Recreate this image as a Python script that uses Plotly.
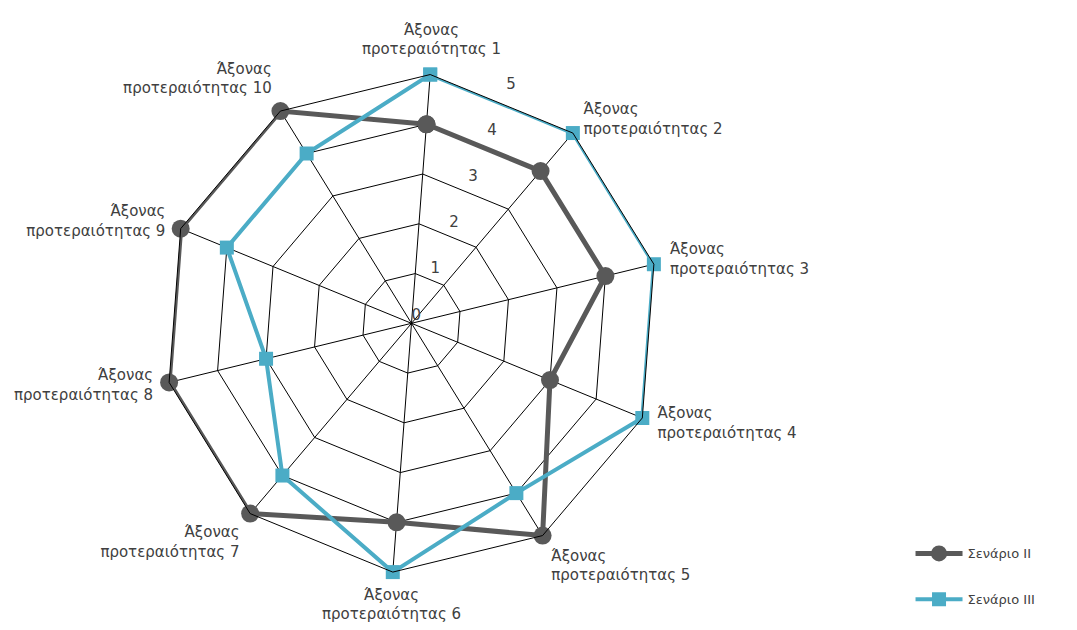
import plotly.graph_objects as go

axes = ["Άξονας<br>προτεραιότητας %d" % i for i in range(1, 11)]
scenario_ii = [4, 4, 4, 3, 5, 4, 5, 5, 5, 5]
scenario_iii = [5, 5, 5, 5, 4, 5, 4, 3, 4, 4]
radial_ticks = [0, 1, 2, 3, 4, 5]

theta = axes + axes[:1]
tick_angle = 18  # radial tick labels sit halfway between axis 1 and 2

# where each category label hangs off its vertex
label_pos = ["top center", "middle right", "middle right", "middle right",
             "bottom right", "bottom center", "bottom left", "middle left",
             "middle left", "top left"]

fig = go.Figure()

fig.add_trace(
    go.Scatterpolar(
        r=scenario_ii + scenario_ii[:1],
        theta=theta,
        mode="lines+markers",
        name="Σενάριο ΙΙ",
        legendgroup="ii",
        line=dict(color="#595959", width=5),
        marker=dict(symbol="circle", size=18, color="#595959")
    )
)

fig.add_trace(
    go.Scatterpolar(
        r=scenario_iii + scenario_iii[:1],
        theta=theta,
        mode="lines+markers",
        name="Σενάριο ΙΙΙ",
        legendgroup="iii",
        line=dict(color="#4BACC6", width=4),
        marker=dict(symbol="square", size=14, color="#4BACC6")
    )
)

# radial tick labels along the bisector, on an overlaid numeric polar
fig.add_trace(
    go.Scatterpolar(
        r=radial_ticks,
        theta=[tick_angle] * len(radial_ticks),
        mode="text",
        text=[str(t) for t in radial_ticks],
        textposition="top right",
        textfont=dict(size=15, color="#404040"),
        cliponaxis=False,
        showlegend=False,
        hoverinfo="skip",
        subplot="polar2"
    )
)

# category labels on a slightly larger overlaid polar
fig.add_trace(
    go.Scatterpolar(
        r=[1] * len(axes),
        theta=axes,
        mode="text",
        text=axes,
        textposition=label_pos,
        textfont=dict(size=15, color="#404040"),
        cliponaxis=False,
        showlegend=False,
        hoverinfo="skip",
        subplot="polar3"
    )
)

domain = dict(x=[0.1425, 0.6068], y=[0.1035, 0.8955])
label_domain = dict(x=[0.1277, 0.6216], y=[0.0773, 0.9217])

fig.update_layout(
    width=1077,
    height=630,
    margin=dict(l=0, r=0, t=0, b=0),
    paper_bgcolor="white",
    plot_bgcolor="white",
    font=dict(family="DejaVu Sans, Noto Sans", size=15, color="#404040"),
    polar=dict(
        domain=domain,
        bgcolor="white",
        gridshape="linear",
        angularaxis=dict(
            rotation=85.7,
            direction="clockwise",
            showline=True,
            linecolor="black",
            linewidth=1,
            gridcolor="black",
            gridwidth=1,
            ticks="",
            showticklabels=False
        ),
        radialaxis=dict(
            range=[0, 5],
            tickvals=radial_ticks,
            showticklabels=False,
            showline=False,
            ticks="",
            gridcolor="black",
            gridwidth=1
        )
    ),
    polar2=dict(
        domain=domain,
        bgcolor="rgba(0,0,0,0)",
        angularaxis=dict(rotation=85.7, direction="clockwise", visible=False),
        radialaxis=dict(range=[0, 5], visible=False)
    ),
    polar3=dict(
        domain=label_domain,
        bgcolor="rgba(0,0,0,0)",
        angularaxis=dict(rotation=85.7, direction="clockwise", visible=False),
        radialaxis=dict(range=[0, 1], visible=False)
    ),
    legend=dict(
        x=0.838,
        y=0.158,
        xanchor="left",
        yanchor="top",
        traceorder="grouped",
        tracegroupgap=26,
        itemwidth=47,
        font=dict(size=13, color="#404040"),
        bgcolor="rgba(0,0,0,0)"
    )
)

fig.write_html("out.html")
